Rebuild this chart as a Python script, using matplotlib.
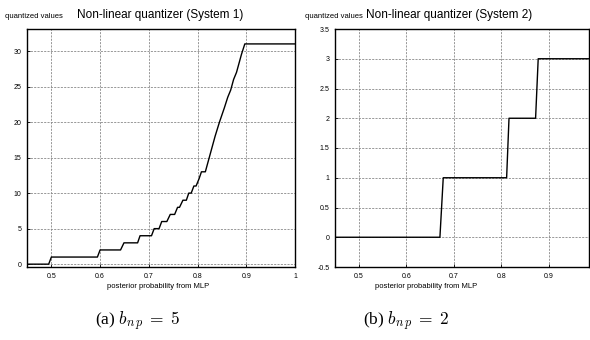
import matplotlib
matplotlib.use("Agg")
import matplotlib.pyplot as plt
from matplotlib import font_manager

names = {f.name for f in font_manager.fontManager.ttflist}
sans = 'Liberation Sans Narrow' if 'Liberation Sans Narrow' in names else 'Liberation Sans'
plt.rcParams['font.family'] = [sans, 'DejaVu Sans']
plt.rcParams['mathtext.fontset'] = 'cm'

# System 1 (b_np = 5)
x1 = [0.45, 0.4945, 0.500, 0.5945, 0.600, 0.642, 0.649, 0.677, 0.682, 0.7055, 0.711,
      0.721, 0.7265, 0.737, 0.744, 0.753, 0.759, 0.763, 0.770, 0.777, 0.782, 0.787,
      0.7925, 0.797, 0.803, 0.808, 0.816, 0.822, 0.828, 0.836, 0.845, 0.855, 0.862,
      0.868, 0.874, 0.880, 0.886, 0.890, 0.897, 1.0]
y1 = [0, 0, 1, 1, 2, 2, 3, 3, 4, 4, 5,
      5, 6, 6, 7, 7, 8, 8, 9, 9, 10, 10,
      11, 11, 12, 13, 13, 14.5, 16, 18, 20, 22, 23.5,
      24.5, 26, 27, 28.5, 29.5, 31, 31]

# System 2 (b_np = 2)
x2 = [0.45, 0.671, 0.678, 0.8115, 0.8165, 0.8725, 0.878, 0.985]
y2 = [0, 0, 1, 1, 2, 2, 3, 3]

xticks = [0.5, 0.6, 0.7, 0.8, 0.9, 1.0]
xticklabels1 = ['0.5', '0.6', '0.7', '0.8', '0.9', '1']
yticks1 = [0, 5, 10, 15, 20, 25, 30]
yticks2 = [-0.5, 0, 0.5, 1, 1.5, 2, 2.5, 3, 3.5]
yticklabels2 = ['-0.5', '0', '0.5', '1', '1.5', '2', '2.5', '3', '3.5']

fig = plt.figure(figsize=(5.9, 3.4), dpi=100)
ax1 = fig.add_axes([27/590, 73/340, 268/590, 238/340])
ax2 = fig.add_axes([335/590, 73/340, 254/590, 238/340])

gridkw = dict(color='#888888', linestyle=(0, (2.5, 1.5)), linewidth=0.6)

def style(ax):
    ax.grid(True, **gridkw)
    ax.set_axisbelow(True)
    for s in ax.spines.values():
        s.set_linewidth(1.0)
        s.set_color('black')
    ax.tick_params(direction='in', length=2, width=0.6, labelsize=5, pad=4, colors='black')

ax1.plot(x1, y1, color='black', linewidth=1.0)
ax1.set_xlim(0.45, 1.0)
ax1.set_ylim(-0.4, 33.1)
ax1.set_xticks(xticks)
ax1.set_xticklabels(xticklabels1)
ax1.set_yticks(yticks1)
style(ax1)

ax2.plot(x2, y2, color='black', linewidth=1.0)
ax2.set_xlim(0.45, 0.985)
ax2.set_ylim(-0.5, 3.5)
ax2.set_xticks(xticks[:-1])
ax2.set_xticklabels(xticklabels1[:-1])
ax2.set_yticks(yticks2)
ax2.set_yticklabels(yticklabels2)
style(ax2)

# titles and labels
fig.text(5/590, 1 - 16/340, 'quantized values', fontsize=5.5, ha='left', va='center')
fig.text(160/590, 1 - 15/340, 'Non-linear quantizer (System 1)', fontsize=8.5, ha='center', va='center')
fig.text(305/590, 1 - 16/340, 'quantized values', fontsize=5.5, ha='left', va='center')
fig.text(449/590, 1 - 15/340, 'Non-linear quantizer (System 2)', fontsize=8.5, ha='center', va='center')

fig.text(158/590, 1 - 287/340, 'posterior probability from MLP', fontsize=5.5, ha='center', va='center')
fig.text(426/590, 1 - 287/340, 'posterior probability from MLP', fontsize=5.5, ha='center', va='center')

fig.text(138/590, 1 - 321/340, r'(a) $b_{n\,p}\;=\;5$', fontsize=12.5, ha='center', va='center',
         family=['Liberation Serif', 'DejaVu Serif'])
fig.text(406/590, 1 - 321/340, r'(b) $b_{n\,p}\;=\;2$', fontsize=12.5, ha='center', va='center',
         family=['Liberation Serif', 'DejaVu Serif'])

fig.savefig('out.png', dpi=100)
